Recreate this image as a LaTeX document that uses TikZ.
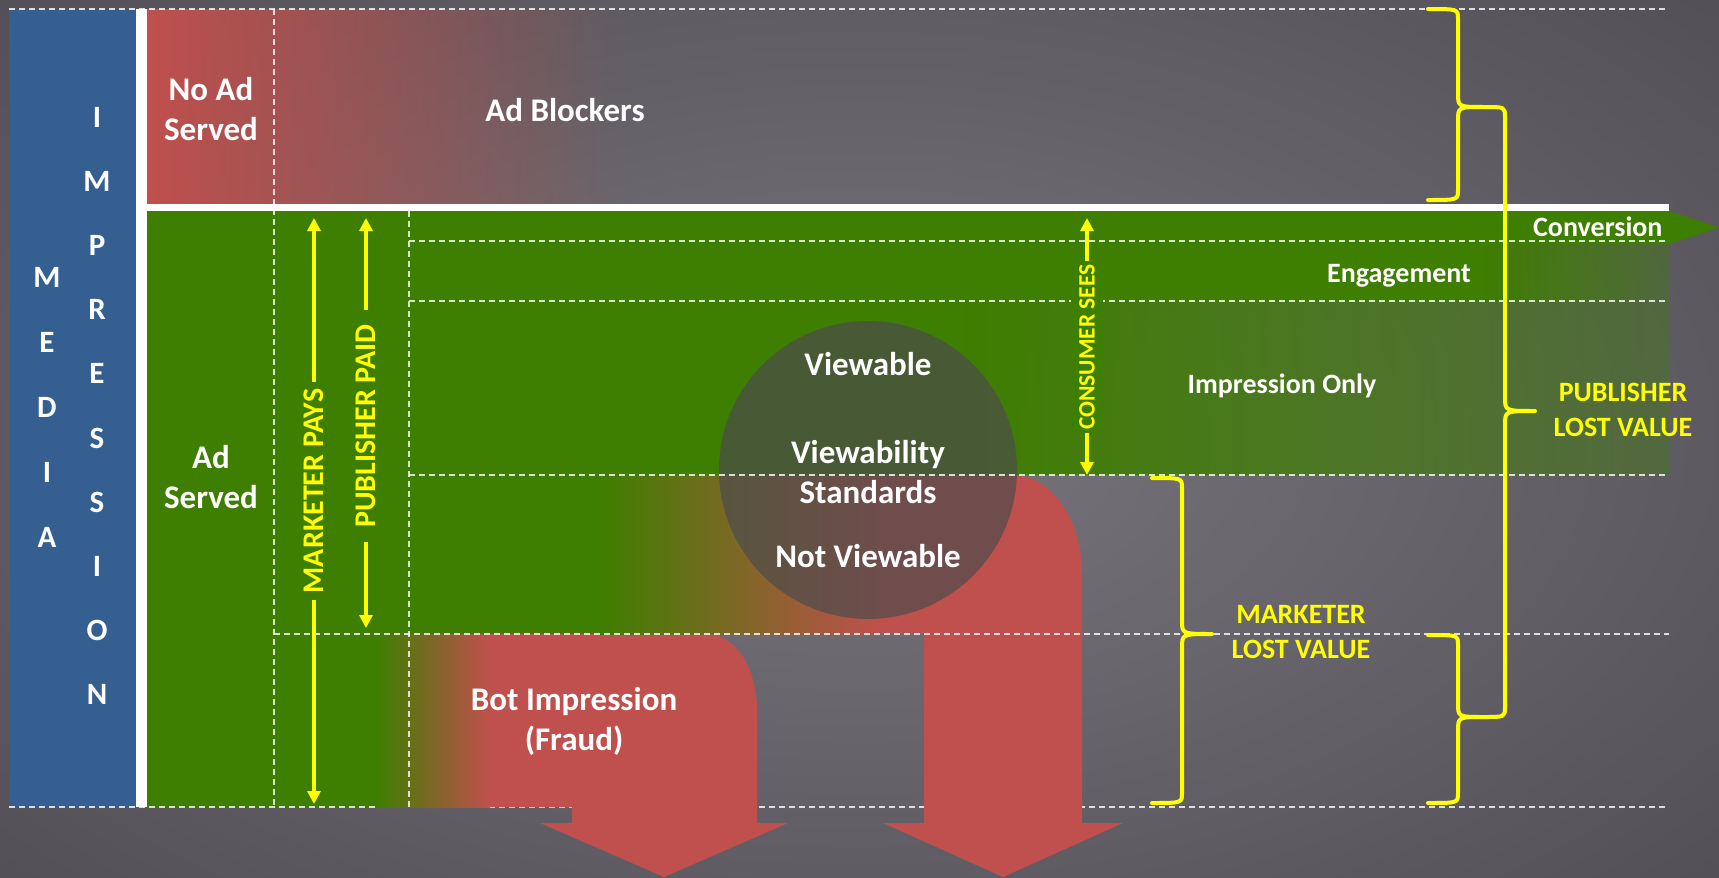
\documentclass[tikz,border=0pt]{standalone}
\usepackage{fontspec}
\setmainfont{Carlito}
\usetikzlibrary{arrows.meta,fadings}

\definecolor{adblue}{RGB}{54,95,145}
\definecolor{adgreen}{RGB}{62,126,0}
\definecolor{adred}{RGB}{192,80,77}
\definecolor{adyellow}{RGB}{255,255,0}
\definecolor{circgray}{RGB}{76,76,76}
\definecolor{bgin}{RGB}{120,118,124}
\definecolor{bgout}{RGB}{52,50,56}

\pgfdeclareradialshading{bgshade}{\pgfpoint{0bp}{0bp}}{color(0bp)=(bgin); color(50bp)=(bgout)}
\tikzfading[name=fadeout, left color=transparent!0, right color=transparent!100]
\tikzfading[name=fadepart, left color=transparent!0, right color=transparent!65]

% right facing brace: end x, spine x, tip x, top y, mid y, bottom y
\newcommand{\ybracepath}[6]{%
  \draw[ybrace] (#1,#4) .. controls (#2,#4) .. (#2,#4+10) -- (#2,#5-14)
    .. controls (#2,#5) .. (#3,#5) .. controls (#2,#5) .. (#2,#5+14)
    -- (#2,#6-10) .. controls (#2,#6) .. (#1,#6);}

\begin{document}
\begin{tikzpicture}[x=1pt, y=-1pt,
    dashline/.style={draw=white, opacity=0.8, line width=1.4pt, dash pattern=on 6pt off 4pt},
    yarrow/.style={draw=adyellow, line width=4pt, -{Triangle[width=13pt,length=13pt]}},
    ybrace/.style={draw=adyellow, line width=4pt, line cap=round, line join=round},
    biglbl/.style={text=white, font=\fontsize{33}{40}\selectfont\bfseries},
    rowlbl/.style={text=white, font=\fontsize{28}{34}\selectfont\bfseries},
    ylbl/.style={text=adyellow, align=center, font=\fontsize{28}{35}\selectfont\bfseries},
    sidelbl/.style={text=adyellow, rotate=90, font=\fontsize{30}{36}\selectfont\bfseries},
    vletter/.style={text=white, font=\fontsize{31}{36}\selectfont\bfseries}]
  \useasboundingbox (0,0) rectangle (1719,878);
  % background
  \shade[shading=bgshade] (-200,-150) rectangle (1919,1028);

  % media impression column
  \fill[adblue] (9,9) rectangle (136,807);
  \fill[white] (136,9) rectangle (147,807);
  \foreach \l [count=\i from 0] in {I,M,P,R,E,S,S,I,O,N}
    \node[vletter] (imp\i) at (97,117+64.2*\i) {\l};
  \foreach \l [count=\i from 0] in {M,E,D,I,A}
    \node[vletter] (med\i) at (47,277+65.2*\i) {\l};

  % no ad served
  \fill[adred, path fading=fadeout] (147,9) rectangle (620,204);
  \fill[white] (147,204) rectangle (1669,211);

  % ad served
  \fill[adgreen] (147,211) rectangle (409,807);
  % impression only
  \fill[adgreen] (409,301) rectangle (962,475);
  \fill[adgreen, path fading=fadepart] (960,301) rectangle (1669,475);
  % engagement
  \fill[adgreen] (409,241) rectangle (1482,301);
  \fill[adgreen, path fading=fadepart] (1480,241) rectangle (1669,301);
  % conversion
  \fill[adgreen] (409,211) -- (1669,211) -- (1719,227.5) -- (1669,244) -- (409,244) -- cycle;

  \draw[dashline] (9,807) -- (1669,807);

  % bot impression arrow
  \fill[adred] (377,634) -- (707,634) .. controls (735,634) and (757,668) .. (757,710)
    -- (757,823) -- (788,823) -- (664,877) -- (540,823) -- (572,823) -- (572,807)
    -- (377,807) -- cycle;
  \shade[left color=adgreen, right color=adred] (376,634) rectangle (490,807);
  % not viewable arrow
  \fill[adred] (600,475) -- (1012,475) .. controls (1051,475) and (1082,519) .. (1082,573)
    -- (1082,823) -- (1123,823) -- (1003,877) -- (883,823) -- (924,823) -- (924,634)
    -- (600,634) -- cycle;
  \fill[adgreen] (409,475) rectangle (601,634);
  \shade[left color=adgreen, right color=adred] (600,475) rectangle (880,634);

  % viewability circle
  \fill[circgray, opacity=0.7] (868,470) circle[radius=149pt];

  % grid
  \draw[dashline] (9,9) -- (1669,9);
  \draw[dashline] (274,9) -- (274,807);
  \draw[dashline] (409,211) -- (409,807);
  \foreach \y in {241,301,475}
    \draw[dashline] (409,\y) -- (1669,\y);
  \draw[dashline] (274,634) -- (1669,634);

  % labels
  \node[biglbl, align=center] (noad) at (211,109) {No Ad\\Served};
  \node[biglbl, anchor=base] (blockers) at (565,121) {Ad Blockers};
  \node[biglbl, align=center] (adserved) at (211,477) {Ad\\Served};
  \node[rowlbl, anchor=base east] (conv) at (1666,236) {Conversion};
  \node[rowlbl, anchor=base] (engage) at (1399,282) {Engagement};
  \node[rowlbl, anchor=base] (imponly) at (1282,393) {Impression Only};
  \node[biglbl, anchor=base] (view) at (868,375) {Viewable};
  \node[biglbl, align=center] (vstd) at (868,472) {Viewability\\Standards};
  \node[biglbl, anchor=base] (notview) at (868,567) {Not Viewable};
  \node[biglbl, align=center] (bot) at (574,721) {Bot Impression\\(Fraud)};
  \node[ylbl] (mlost) at (1301,632) {MARKETER\\LOST VALUE};
  \node[ylbl] (plost) at (1623,410) {PUBLISHER\\LOST VALUE};

  % who pays, who sees
  \node[sidelbl, inner xsep=7pt] (mpays) at (314,491) {MARKETER PAYS};
  \node[sidelbl, inner xsep=14pt] (ppaid) at (366,426) {PUBLISHER PAID};
  \node[sidelbl, font=\fontsize{23.5}{28}\selectfont\bfseries, fill=adgreen,
    minimum width=170pt, minimum height=32pt] (csees) at (1087,347) {CONSUMER SEES};
  \coordinate (mtop) at (314,218);
  \coordinate (mbot) at (314,804);
  \coordinate (ptop) at (366,218);
  \coordinate (pbot) at (366,628);
  \coordinate (ctop) at (1087,218);
  \coordinate (cbot) at (1087,475);
  \draw[yarrow] (mpays.east) -- (mtop);
  \draw[yarrow] (mpays.west) -- (mbot);
  \draw[yarrow] (ppaid.east) -- (ptop);
  \draw[yarrow] (ppaid.west) -- (pbot);
  \draw[yarrow] (csees.east) -- (ctop);
  \draw[yarrow] (csees.west) -- (cbot);

  % lost value braces
  \ybracepath{1428}{1458}{1484}{9}{107}{200}
  \ybracepath{1484}{1505}{1535}{107}{411}{717}
  \ybracepath{1428}{1458}{1484}{635}{717}{803}
  \ybracepath{1152}{1182}{1212}{478}{634}{803}
\end{tikzpicture}
\end{document}
